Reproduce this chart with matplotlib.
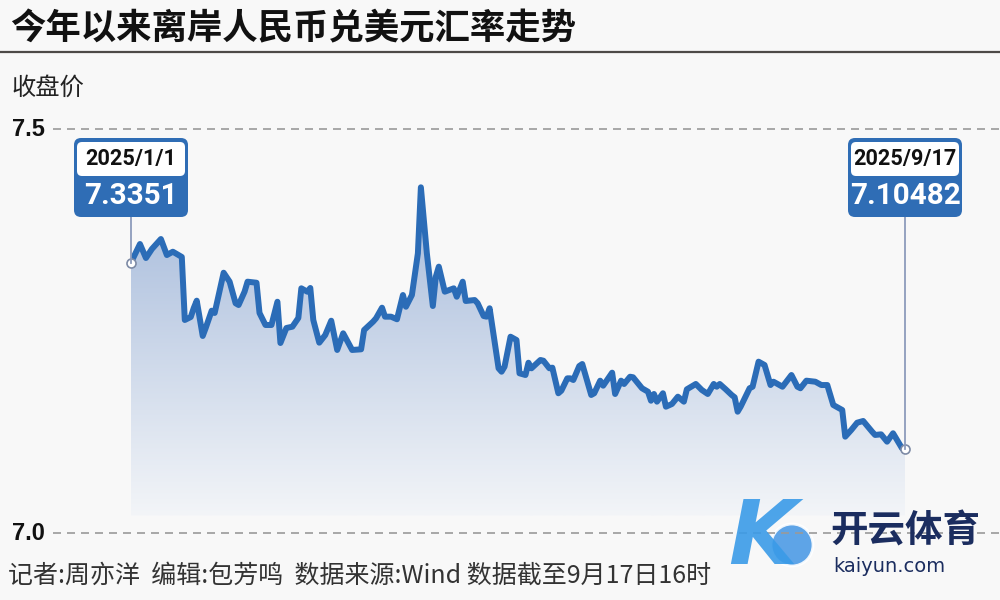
import numpy as np
import pandas as pd
import matplotlib
matplotlib.use("Agg")
import matplotlib.pyplot as plt
import matplotlib.dates as mdates
from matplotlib.patches import FancyBboxPatch, Circle
from matplotlib.lines import Line2D
from matplotlib.transforms import blended_transform_factory, IdentityTransform
from matplotlib import font_manager

# ---------------- data ----------------
dates = [
    "2025-01-01", "2025-01-04", "2025-01-06", "2025-01-08", "2025-01-11", "2025-01-13",
    "2025-01-15", "2025-01-18", "2025-01-19", "2025-01-21", "2025-01-22", "2025-01-23",
    "2025-01-25", "2025-01-26", "2025-01-28", "2025-01-29", "2025-02-01", "2025-02-03",
    "2025-02-05", "2025-02-06", "2025-02-08", "2025-02-09", "2025-02-12", "2025-02-13",
    "2025-02-15", "2025-02-17", "2025-02-19", "2025-02-20", "2025-02-22", "2025-02-24",
    "2025-02-26", "2025-02-27", "2025-03-01", "2025-03-02", "2025-03-03", "2025-03-05",
    "2025-03-07", "2025-03-09", "2025-03-11", "2025-03-13", "2025-03-16", "2025-03-19",
    "2025-03-20", "2025-03-23", "2025-03-24", "2025-03-26", "2025-03-27", "2025-03-29",
    "2025-03-31", "2025-04-02", "2025-04-03", "2025-04-05", "2025-04-07", "2025-04-08",
    "2025-04-10", "2025-04-12", "2025-04-13", "2025-04-14", "2025-04-16", "2025-04-19",
    "2025-04-20", "2025-04-22", "2025-04-23", "2025-04-26", "2025-04-27", "2025-04-29",
    "2025-04-30", "2025-05-01", "2025-05-04", "2025-05-05", "2025-05-06", "2025-05-08",
    "2025-05-10", "2025-05-11", "2025-05-13", "2025-05-14", "2025-05-15", "2025-05-18",
    "2025-05-19", "2025-05-21", "2025-05-22", "2025-05-24", "2025-05-25", "2025-05-27",
    "2025-05-28", "2025-05-29", "2025-05-31", "2025-06-01", "2025-06-04", "2025-06-05",
    "2025-06-07", "2025-06-08", "2025-06-11", "2025-06-12", "2025-06-14", "2025-06-15",
    "2025-06-17", "2025-06-18", "2025-06-21", "2025-06-23", "2025-06-24", "2025-06-25",
    "2025-06-26", "2025-06-28", "2025-06-29", "2025-07-01", "2025-07-03", "2025-07-05",
    "2025-07-06", "2025-07-09", "2025-07-11", "2025-07-13", "2025-07-15", "2025-07-16",
    "2025-07-17", "2025-07-19", "2025-07-21", "2025-07-22", "2025-07-23", "2025-07-24",
    "2025-07-27", "2025-07-28", "2025-07-30", "2025-08-01", "2025-08-03", "2025-08-04",
    "2025-08-07", "2025-08-10", "2025-08-12", "2025-08-13", "2025-08-15", "2025-08-18",
    "2025-08-20", "2025-08-22", "2025-08-24", "2025-08-27", "2025-08-28", "2025-08-30",
    "2025-09-01", "2025-09-03", "2025-09-06", "2025-09-07", "2025-09-09", "2025-09-11",
    "2025-09-13", "2025-09-14", "2025-09-16", "2025-09-17",
]
values = [
    7.3351, 7.3580, 7.3407, 7.3519, 7.3642, 7.3444,
    7.3485, 7.3420, 7.2640, 7.2677, 7.2788, 7.2879,
    7.2442, 7.2541, 7.2755, 7.2727, 7.3225, 7.3114,
    7.2847, 7.2825, 7.2990, 7.3114, 7.3101, 7.2727,
    7.2578, 7.2578, 7.2866, 7.2355, 7.2541, 7.2557,
    7.2665, 7.3032, 7.2990, 7.3036, 7.2640, 7.2359,
    7.2454, 7.2631, 7.2269, 7.2475, 7.2269, 7.2277,
    7.2516, 7.2619, 7.2661, 7.2792, 7.2681, 7.2681,
    7.2649, 7.2949, 7.2804, 7.2949, 7.3465, 7.4282,
    7.3465, 7.2813, 7.3176, 7.3300, 7.2990, 7.3032,
    7.2928, 7.3114, 7.2875, 7.2887, 7.2847, 7.2689,
    7.2681, 7.2785, 7.2042, 7.2000, 7.2062, 7.2433,
    7.2392, 7.1980, 7.1959, 7.2111, 7.2042, 7.2145,
    7.2136, 7.2042, 7.2050, 7.1733, 7.1765, 7.1918,
    7.1918, 7.1897, 7.2070, 7.2095, 7.1712, 7.1733,
    7.1889, 7.1827, 7.1988, 7.1724, 7.1889, 7.1848,
    7.1938, 7.1931, 7.1795, 7.1752, 7.1641, 7.1724,
    7.1629, 7.1733, 7.1567, 7.1600, 7.1691, 7.1629,
    7.1782, 7.1848, 7.1774, 7.1724, 7.1848, 7.1814,
    7.1848, 7.1782, 7.1712, 7.1683, 7.1505, 7.1567,
    7.1795, 7.1814, 7.2124, 7.2083, 7.1835, 7.1876,
    7.1814, 7.1959, 7.1814, 7.1795, 7.1889, 7.1876,
    7.1835, 7.1835, 7.1588, 7.1526, 7.1196, 7.1278,
    7.1369, 7.1390, 7.1257, 7.1217, 7.1225, 7.1134,
    7.1238, 7.1176, 7.1052, 7.10482,
]

title = "今年以来离岸人民币兑美元汇率走势"
ylabel = "收盘价"
yticks = [7.0, 7.5]
ytick_labels = ["7.0", "7.5"]
footer = "记者:周亦洋  编辑:包芳鸣  数据来源:Wind 数据截至9月17日16时"
start_date_label = "2025/1/1"
start_value_label = "7.3351"
end_date_label = "2025/9/17"
end_value_label = "7.10482"
wm_cn = "开云体育"
wm_en = "kaiyun.com"

# ---------------- style ----------------
W, H = 1000, 600
BG = "#f8f8f8"
LINE = "#2b6cb7"
BOX = "#2f6db5"
CJK = ["Noto Sans CJK SC", "DejaVu Sans"]
names = {f.name for f in font_manager.fontManager.ttflist}
if "Liberation Sans Narrow" in names:
    NARROW, NSC = "Liberation Sans Narrow", 1.0
else:
    NARROW, NSC = "Roboto", 0.82

fig = plt.figure(figsize=(W / 100, H / 100), dpi=100)
fig.patch.set_facecolor(BG)

y75, y70 = 129.3, 533.3   # pixel rows of 7.5 and 7.0
ax = fig.add_axes([131 / W, (H - y70) / H, (905 - 131) / W, (y70 - y75) / H])
ax.set_facecolor("none")
ax.axis("off")

x = pd.to_datetime(dates)
xn = mdates.date2num(x)
vals = np.array(values)

# gradient area
base = 7.022
poly = ax.fill_between(xn, vals, base, facecolor="none", edgecolor="none")
g = np.linspace(0, 1, 256).reshape(-1, 1, 1)
top_c = np.array([165, 186, 219]) / 255
bot_c = np.array([243, 245, 248]) / 255
img = bot_c + (top_c - bot_c) * g
im = ax.imshow(img, extent=[xn[0], xn[-1], base, vals.max()], origin="lower",
               aspect="auto", interpolation="bilinear", zorder=1)
im.set_clip_path(poly.get_paths()[0], transform=ax.transData)

ax.plot(xn, vals, color=LINE, lw=4.3, solid_joinstyle="round",
        solid_capstyle="round", zorder=3)
ax.set_xlim(xn[0], xn[-1])
ax.set_ylim(7.0, 7.5)

# gridlines & y labels
trans = blended_transform_factory(fig.transFigure, ax.transData)
for yv, lab in zip(yticks, ytick_labels):
    fig.add_artist(Line2D([0.053, 1.0], [yv, yv], transform=trans, color="#9a9a9a",
                          lw=1.2, ls=(0, (4.8, 3.6))))
    fig.text(0.012, yv, lab, transform=trans, ha="left", va="center",
             fontsize=17, fontweight="bold", family="Liberation Sans", color="#111")

# title
fig.text(10 / W, 1 - 29 / H, title, fontsize=25.5, fontweight="bold", family=CJK,
         ha="left", va="center", color="#111")
fig.add_artist(Line2D([0, 1], [1 - 52 / H] * 2, transform=fig.transFigure,
                      color="#4d4a48", lw=1.6))
fig.text(12 / W, 1 - 88 / H, ylabel, fontsize=17.5, family=CJK, fontweight="medium",
         ha="left", va="center", color="#222")
fig.text(8 / W, 1 - 576 / H, footer, fontsize=18, family=CJK,
         ha="left", va="center", color="#333")

# annotation boxes
ident = IdentityTransform()
def callout(xv, yv, dlab, vlab):
    px, py = ax.transData.transform((xv, yv))
    bw, top, bot = 114, H - 138, H - 217
    fig.add_artist(Line2D([px, px], [bot, py], transform=ident, color="#8d9cbc",
                          lw=1.3, zorder=4))
    fig.add_artist(FancyBboxPatch((px - bw / 2, bot), bw, top - bot,
                                  boxstyle="round,pad=0,rounding_size=7",
                                  fc=BOX, ec="none", transform=ident, zorder=5))
    fig.add_artist(FancyBboxPatch((px - bw / 2 + 3, H - 176), bw - 6, 34,
                                  boxstyle="round,pad=0,rounding_size=5",
                                  fc="white", ec="none", transform=ident, zorder=6))
    fig.text(px, H - 159, dlab, transform=ident, ha="center", va="center",
             fontsize=19 * NSC, fontweight="bold", family=NARROW, color="#111", zorder=7)
    fig.text(px, H - 196, vlab, transform=ident, ha="center", va="center",
             fontsize=26 * NSC, fontweight="bold", family=NARROW, color="white", zorder=7)
    ax.plot([xv], [yv], "o", ms=6.5, mfc="white", mec="#7d8aa5", mew=1.2,
            zorder=8, clip_on=False)

callout(xn[0], vals[0], start_date_label, start_value_label)
callout(xn[-1], vals[-1], end_date_label, end_value_label)

# watermark
fig.text(728 / W, 1 - 540 / H, "K", fontsize=64, fontweight="bold", style="italic",
         family="DejaVu Sans", color="#3a9be8", ha="left", va="center", alpha=0.9)
fig.add_artist(Circle((792, H - 545), 21, transform=ident, fc="#4d9be6",
                      ec="white", lw=2, alpha=0.9))
fig.text(830 / W, 1 - 531 / H, wm_cn, fontsize=27, fontweight="bold", family=CJK,
         color="#1b2d5f", ha="left", va="center")
fig.text(833 / W, 1 - 566 / H, wm_en, fontsize=14, family="DejaVu Sans",
         color="#1b2d5f", ha="left", va="center")

fig.savefig("out.png", dpi=100, facecolor=BG)
